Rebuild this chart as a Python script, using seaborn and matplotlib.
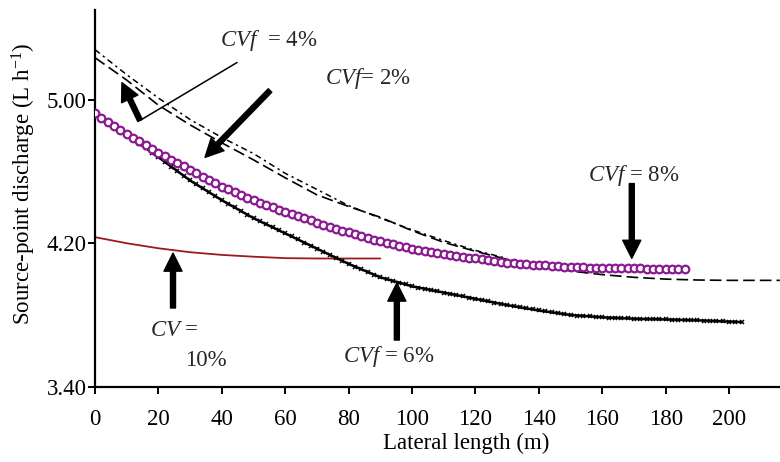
import numpy as np
import matplotlib
matplotlib.use('Agg')
from matplotlib import pyplot as plt
import seaborn as sns

# lateral positions (m) and readings from the figure
x_cvf8 = np.arange(0, 188, 2)
q_cvf8 = [4.924, 4.900, 4.877, 4.855, 4.832, 4.810, 4.789, 4.768, 4.747, 4.726,
          4.705, 4.686, 4.667, 4.648, 4.629, 4.610, 4.591, 4.572, 4.553, 4.534,
          4.516, 4.500, 4.484, 4.469, 4.454, 4.440, 4.427, 4.414, 4.401, 4.388,
          4.375, 4.363, 4.351, 4.339, 4.327, 4.315, 4.304, 4.293, 4.282, 4.271,
          4.260, 4.250, 4.240, 4.230, 4.220, 4.210, 4.202, 4.194, 4.186, 4.178,
          4.170, 4.164, 4.158, 4.152, 4.146, 4.140, 4.135, 4.130, 4.125, 4.120,
          4.115, 4.110, 4.105, 4.100, 4.095, 4.090, 4.088, 4.085, 4.083, 4.080,
          4.078, 4.076, 4.074, 4.072, 4.070, 4.068, 4.067, 4.066, 4.064, 4.063,
          4.062, 4.062, 4.061, 4.061, 4.060, 4.060, 4.060, 4.059, 4.059, 4.058,
          4.058, 4.057, 4.057, 4.056]

x_cvf6 = np.arange(0, 206, 2)
q_cvf6 = [4.920, 4.897, 4.874, 4.851, 4.828, 4.805, 4.780, 4.755, 4.730, 4.705,
          4.680, 4.654, 4.628, 4.602, 4.576, 4.550, 4.528, 4.506, 4.484, 4.462,
          4.440, 4.420, 4.400, 4.380, 4.360, 4.340, 4.323, 4.306, 4.289, 4.272,
          4.255, 4.238, 4.221, 4.204, 4.187, 4.170, 4.153, 4.136, 4.119, 4.102,
          4.085, 4.070, 4.055, 4.040, 4.025, 4.010, 4.000, 3.990, 3.980, 3.970,
          3.960, 3.953, 3.946, 3.939, 3.932, 3.925, 3.918, 3.911, 3.904, 3.897,
          3.890, 3.883, 3.876, 3.869, 3.862, 3.855, 3.849, 3.843, 3.837, 3.831,
          3.825, 3.820, 3.815, 3.810, 3.805, 3.800, 3.797, 3.795, 3.792, 3.790,
          3.787, 3.785, 3.784, 3.782, 3.781, 3.779, 3.778, 3.777, 3.777, 3.776,
          3.775, 3.774, 3.773, 3.772, 3.771, 3.770, 3.769, 3.767, 3.766, 3.764,
          3.763, 3.762, 3.760]

x_cvf4 = [0, 10, 20, 30, 40, 50, 60, 70, 80, 90, 100, 110, 120, 130, 140, 150,
          160, 170, 180, 190, 200, 210, 216]
q_cvf4 = [5.235, 5.110, 4.970, 4.860, 4.760, 4.665, 4.565, 4.470, 4.405, 4.345,
          4.270, 4.205, 4.155, 4.110, 4.075, 4.045, 4.025, 4.010, 4.000, 3.995,
          3.993, 3.993, 3.993]

x_cvf2 = [0, 10, 20, 30, 40, 50, 60, 70, 80, 90, 100, 110, 120, 130]
q_cvf2 = [5.280, 5.140, 5.010, 4.890, 4.790, 4.700, 4.590, 4.500, 4.410, 4.340,
          4.275, 4.215, 4.160, 4.115]

x_cv10 = [0, 10, 20, 30, 40, 50, 60, 70, 80, 90]
q_cv10 = [4.234, 4.200, 4.172, 4.150, 4.135, 4.125, 4.117, 4.115, 4.115, 4.115]

x_ticks = [0, 20, 40, 60, 80, 100, 120, 140, 160, 180, 200]
y_ticks = [3.40, 4.20, 5.00]

purple = '#8B1A92'
dark_red = '#9B1B1B'

sns.set_theme(style='ticks')
plt.rcParams['font.family'] = ['Liberation Serif', 'DejaVu Serif']
plt.rcParams['mathtext.fontset'] = 'custom'
plt.rcParams['mathtext.rm'] = 'Liberation Serif'
plt.rcParams['mathtext.it'] = 'Liberation Serif:italic'
fs = 16.5

fig = plt.figure(figsize=(7.8, 4.62), dpi=100)
ax = fig.add_axes([0.1218, 0.163, 0.878, 0.815])

sns.lineplot(x=x_cvf2, y=q_cvf2, ax=ax, color='black', lw=1.1,
             linestyle=(0, (4, 2.5, 1.5, 2.5)))
sns.lineplot(x=x_cvf4, y=q_cvf4, ax=ax, color='black', lw=1.2,
             linestyle=(0, (7, 3)))
sns.lineplot(x=x_cv10, y=q_cv10, ax=ax, color=dark_red, lw=1.3, linestyle='-')
sns.lineplot(x=x_cvf6, y=q_cvf6, ax=ax, color='black', lw=1.8, linestyle='-',
             marker='x', markersize=3.5, markeredgewidth=1.1, markeredgecolor='black')
sns.scatterplot(x=x_cvf8, y=q_cvf8, ax=ax, marker='o', s=30,
                facecolor='white', edgecolor=purple, linewidth=1.6, zorder=5)

ax.set_xlim(0, 216)
ax.set_ylim(3.4, 5.5)
ax.set_xticks(x_ticks)
ax.set_yticks(y_ticks)
ax.set_yticklabels([f'{v:.2f}' for v in y_ticks])
ax.tick_params(axis='x', labelsize=fs, length=5, width=1.4, pad=11, colors='black')
ax.tick_params(axis='y', labelsize=fs, length=5, width=1.4, pad=1, colors='black')
for side in ['top', 'right']:
    ax.spines[side].set_visible(False)
for side in ['left', 'bottom']:
    ax.spines[side].set_linewidth(1.6)
    ax.spines[side].set_color('black')

ax.set_xlabel('Lateral length (m)', fontsize=fs, color='black')
ax.set_ylabel(r'Source-point discharge (L h$^{\mathregular{-1}}$)', fontsize=fs, color='black')
ax.xaxis.set_label_coords(0.5416, -0.123)
ax.yaxis.set_label_coords(-0.083, 0.538)

# annotations
thick = dict(arrowstyle='simple, head_length=0.65, head_width=0.65, tail_width=0.18',
             color='black', mutation_scale=20, shrinkA=0, shrinkB=0)

ax.text(39.4, 5.33, r'$CVf$  = 4%', fontsize=fs, va='center', ha='left')
ax.annotate('', xy=(14.2, 4.885), xytext=(44.8, 5.208),
            arrowprops=dict(arrowstyle='-', lw=1.1, color='black', shrinkA=0, shrinkB=0))
ax.annotate('', xy=(8.5, 5.096), xytext=(14.2, 4.885), arrowprops=thick)

ax.text(72.5, 5.118, r'$CVf$= 2%', fontsize=fs, va='center', ha='left')
ax.annotate('', xy=(34.7, 4.679), xytext=(55.2, 5.052), arrowprops=thick)

ax.text(155.4, 4.578, r'$CVf$ = 8%', fontsize=fs, va='center', ha='left')
ax.annotate('', xy=(169.3, 4.116), xytext=(169.3, 4.533), arrowprops=thick)

ax.text(17.3, 3.716, r'$CV$ =', fontsize=fs, va='center', ha='left')
ax.text(28.4, 3.544, '10%', fontsize=fs, va='center', ha='left')
ax.annotate('', xy=(24.6, 4.145), xytext=(24.6, 3.839), arrowprops=thick)

ax.text(78.2, 3.566, r'$CVf$ = 6%', fontsize=fs, va='center', ha='left')
ax.annotate('', xy=(95.2, 3.978), xytext=(95.2, 3.66), arrowprops=thick)

fig.savefig('out.png', dpi=100)
